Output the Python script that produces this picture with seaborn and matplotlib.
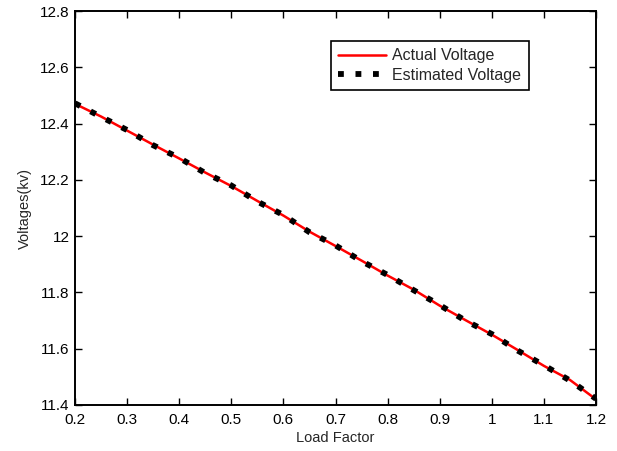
import numpy as np
import pandas as pd
import seaborn as sns
import matplotlib.pyplot as plt
from matplotlib.ticker import FuncFormatter

# Values
load_factor = [0.20, 0.25, 0.30, 0.35, 0.40, 0.45, 0.50, 0.55, 0.60, 0.65, 0.70,
               0.75, 0.80, 0.85, 0.90, 0.95, 1.00, 1.05, 1.10, 1.15, 1.20]
actual_voltage = [12.470, 12.425, 12.375, 12.325, 12.276, 12.226, 12.178, 12.125,
                  12.073, 12.016, 11.965, 11.913, 11.860, 11.810, 11.753, 11.701,
                  11.650, 11.595, 11.539, 11.489, 11.420]
estimated_voltage = [12.472, 12.424, 12.377, 12.323, 12.278, 12.224, 12.180, 12.123,
                     12.075, 12.014, 11.967, 11.911, 11.862, 11.808, 11.755, 11.699,
                     11.652, 11.593, 11.541, 11.487, 11.422]

x_ticks = [0.2, 0.3, 0.4, 0.5, 0.6, 0.7, 0.8, 0.9, 1.0, 1.1, 1.2]
y_ticks = [11.4, 11.6, 11.8, 12.0, 12.2, 12.4, 12.6, 12.8]

df = pd.DataFrame({"Load Factor": load_factor,
                   "Actual Voltage": actual_voltage,
                   "Estimated Voltage": estimated_voltage})

sns.set_style("ticks")
plt.rcParams['font.family'] = ['Liberation Sans', 'DejaVu Sans']

fig, ax = plt.subplots(figsize=(6.17, 4.51), dpi=100)
fig.subplots_adjust(left=0.1216, right=0.966, bottom=0.102, top=0.9756)

sns.lineplot(data=df, x="Load Factor", y="Actual Voltage", color='red',
             linewidth=1.8, label='Actual Voltage', ax=ax)
sns.lineplot(data=df, x="Load Factor", y="Estimated Voltage", color='black',
             linewidth=4.2, linestyle=(0, (1, 2.0)), label='Estimated Voltage', ax=ax)

ax.set_xlim(0.2, 1.2)
ax.set_ylim(11.4, 12.8)
ax.set_xticks(x_ticks)
ax.set_yticks(y_ticks)
fmt = FuncFormatter(lambda v, p: ('%g' % round(v, 2)))
ax.xaxis.set_major_formatter(fmt)
ax.yaxis.set_major_formatter(fmt)
ax.tick_params(direction='in', length=5, width=1, top=True, right=True,
               labelsize=11, colors='black', pad=4)
ax.tick_params(axis='x', pad=6)
for s in ax.spines.values():
    s.set_visible(True)
    s.set_linewidth(1.4)
    s.set_color('black')

ax.set_xlabel('Load Factor', fontsize=10.5, labelpad=3)
ax.set_ylabel('Voltages(kv)', fontsize=10.5, labelpad=6)

leg = ax.legend(loc='upper left', bbox_to_anchor=(0.491, 0.924), borderaxespad=0,
                fontsize=11.5, fancybox=False, framealpha=1, edgecolor='black',
                handlelength=3.0, borderpad=0.45, labelspacing=0.3, handletextpad=0.4)
leg.get_frame().set_linewidth(1.2)

fig.savefig('out.png', dpi=100)
